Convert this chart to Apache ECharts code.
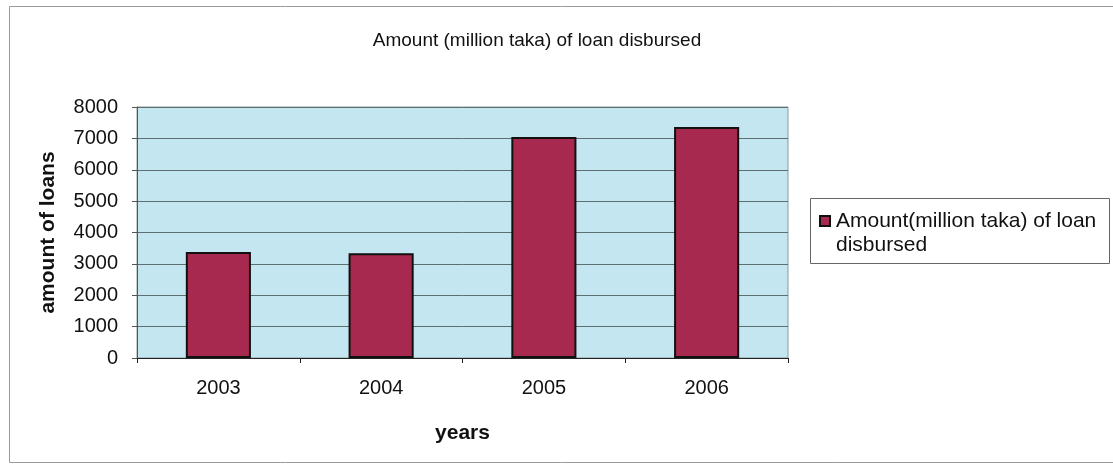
<!DOCTYPE html>
<html>
<head>
<meta charset="utf-8">
<script src="https://cdn.jsdelivr.net/npm/echarts@6/dist/echarts.min.js"></script>
<style>
html,body{margin:0;padding:0;background:#fff;}
#chart{width:1113px;height:470px;}
</style>
</head>
<body>
<div id="chart"></div>
<script>
var categories = ['2003', '2004', '2005', '2006'];
var loanValues = [3380, 3340, 7040, 7360];
var seriesName = 'Amount(million taka) of loan disbursed';
var chartTitle = 'Amount (million taka) of loan disbursed';

var chart = echarts.init(document.getElementById('chart'));
var font = 'Liberation Sans, Arial, sans-serif';
chart.setOption({
  animation: false,
  backgroundColor: '#ffffff',
  title: {
    text: chartTitle,
    left: 532,
    top: 26,
    textAlign: 'center',
    textStyle: {fontFamily: font, fontSize: 19, fontWeight: 'normal', color: '#111'}
  },
  graphic: [
    {type: 'rect', shape: {x: 9.5, y: 6.5, width: 1115, height: 456}, style: {fill: 'none', stroke: '#9a9a9a', lineWidth: 1}, z: -10},
    {type: 'rect', shape: {x: 810.5, y: 198.5, width: 299, height: 65}, style: {fill: '#fff', stroke: '#666', lineWidth: 1}, z: 1}
  ],
  legend: {
    data: [seriesName],
    left: 819,
    top: 185,
    padding: 0,
    itemWidth: 10,
    itemHeight: 10,
    itemGap: 0,
    icon: 'rect',
    z: 5,
    formatter: function () { return '\nAmount(million taka) of loan\ndisbursed'; },
    textStyle: {fontFamily: font, fontSize: 21, color: '#111', lineHeight: 24, padding: [0, 0, 0, 1]}
  },
  grid: {left: 137, top: 107, width: 651, height: 251, show: true, backgroundColor: '#c4e6f1', borderColor: '#8a9a9a', borderWidth: 1},
  xAxis: {
    type: 'category',
    data: categories,
    name: 'years',
    nameLocation: 'middle',
    nameGap: 65,
    nameTextStyle: {fontFamily: font, fontSize: 21, fontWeight: 'bold', color: '#111'},
    axisLine: {lineStyle: {color: '#222', width: 1}},
    axisTick: {show: true, length: 5, lineStyle: {color: '#222'}},
    axisLabel: {fontFamily: font, fontSize: 20, color: '#111', margin: 20}
  },
  yAxis: {
    type: 'value',
    min: 0,
    max: 8000,
    interval: 1000,
    name: 'amount of loans',
    nameLocation: 'middle',
    nameGap: 78,
    nameRotate: 90,
    nameTextStyle: {fontFamily: font, fontSize: 21, fontWeight: 'bold', color: '#111'},
    axisLine: {show: true, lineStyle: {color: '#555', width: 1}},
    axisTick: {show: true, length: 5, lineStyle: {color: '#555'}},
    axisLabel: {fontFamily: font, fontSize: 20, color: '#111', margin: 19, formatter: function (v) { return String(v); }},
    splitLine: {lineStyle: {color: '#5e6f70', width: 1}}
  },
  series: [{
    name: seriesName,
    type: 'bar',
    data: loanValues,
    barWidth: '40%',
    itemStyle: {color: '#a8294f', borderColor: '#111', borderWidth: 2}
  }]
});
</script>
</body>
</html>
